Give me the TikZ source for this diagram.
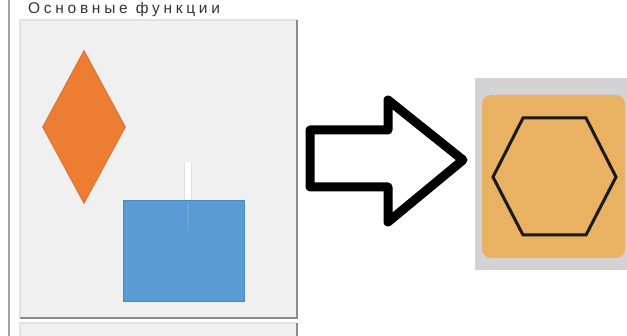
\documentclass[tikz,border=0pt]{standalone}
\usepackage{fontspec}
\setmainfont{Liberation Sans}
\usetikzlibrary{shapes.geometric}
\definecolor{panelbg}{HTML}{F0F0F0}
\definecolor{paneldark}{HTML}{8C8C8C}
\definecolor{panellight}{HTML}{E2E2E2}
\definecolor{orangeA}{HTML}{ED7D31}
\definecolor{orangeB}{HTML}{D8702A}
\definecolor{blueA}{HTML}{5B9BD5}
\definecolor{blueB}{HTML}{4A88C4}
\definecolor{tileorange}{HTML}{E9B263}
\definecolor{tilegray}{HTML}{D3D3D6}
\tikzset{
  panel/.style={fill=panelbg, draw=none},
  shadowline/.style={draw=paneldark, line width=1.8pt},
  lightline/.style={draw=panellight, line width=1.2pt},
}
\begin{document}
\begin{tikzpicture}[x=1pt,y=-1pt]
\useasboundingbox (0,0) rectangle (627,336);
\fill[white] (0,0) rectangle (627,336);
% screen left border
\draw[draw=paneldark!80!white, line width=2pt] (9,0) -- (9,336);
% title
\node[anchor=base west, inner sep=0pt, font=\fontsize{15.5}{17}\selectfont\addfontfeature{LetterSpace=24}, text=black!80] (title) at (28,14) {Основные функции};
% main panel
\fill[panel] (20,20) rectangle (297,318);
\draw[lightline] (20,318) -- (20,20) -- (297,20);
\draw[shadowline] (20,318) -- (297,318) -- (297,20);
% lower panel
\fill[panel] (20,323) rectangle (297,336);
\draw[lightline] (20,336) -- (20,323) -- (297,323);
\draw[shadowline] (297,323) -- (297,336);
% diamond
\node[diamond, fill=orangeA, draw=orangeB, line width=0.8pt, inner sep=0pt,
      minimum width=83pt, minimum height=153pt] (dia) at (84,127) {};
% handle
\node[fill=white, draw=panellight, line width=0.8pt, rounded corners=2pt, inner sep=0pt,
      minimum width=7pt, minimum height=40pt] (handle) at (188,181) {};
% blue rectangle
\node[fill=blueA, draw=blueB, line width=1.2pt, inner sep=0pt,
      minimum width=121pt, minimum height=101pt] (rect) at (184,251) {};
\draw[blueB!80!white, line width=1.5pt] (handle.south) -- ++(0,30);
% arrow
\coordinate (a1) at (310,130);
\draw[black, line width=9pt, line join=round]
  (a1) -- (388,130) -- (388,100) -- (463,160) -- (388,222) -- (388,187) -- (310,187) -- cycle;
% right tile
\fill[tilegray] (475,78) rectangle (627,270);
\node[fill=tileorange, rounded corners=9pt, inner sep=0pt,
      minimum width=143pt, minimum height=163pt] (tile) at (553.5,176.5) {};
\draw[black!90, line width=3pt, line join=miter]
  (493,177) -- (523,118) -- (586,118) -- (616,177) -- (586,235) -- (523,235) -- cycle;
\end{tikzpicture}
\end{document}
